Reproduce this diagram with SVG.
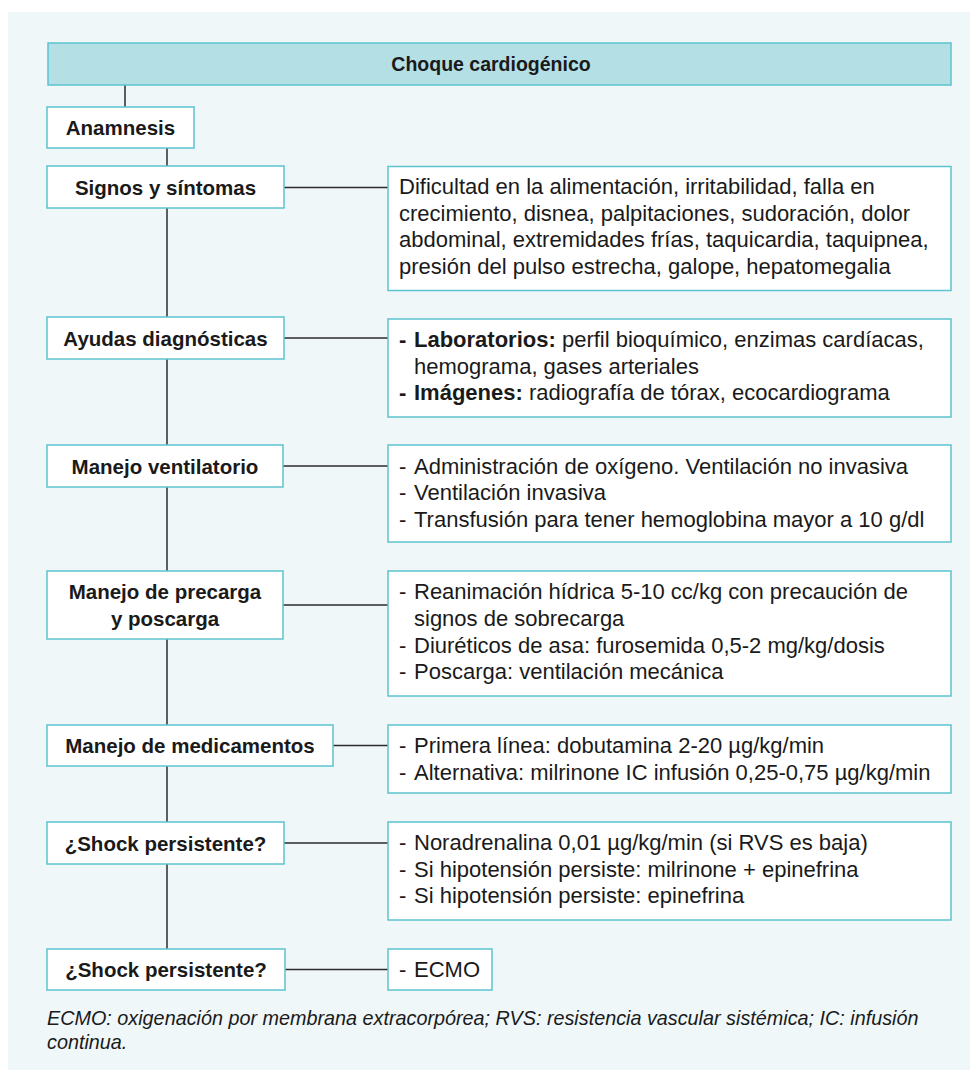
<svg xmlns="http://www.w3.org/2000/svg" width="979" height="1088" viewBox="0 0 979 1088">
<defs>
<style>
.bg{fill:#eff7f9}
.box{fill:#ffffff;stroke:#5cc3cf;stroke-width:1.5}
.title{fill:#b4dfe5;stroke:#5cc3cf;stroke-width:1.5}
.lbl{font-family:"Liberation Sans",Arial,sans-serif;font-size:20.5px;font-weight:bold;fill:#1a1a1a;text-anchor:middle}
.txt{font-family:"Liberation Sans",Arial,sans-serif;font-size:22px;fill:#1a1a1a}
.b{font-weight:bold}
.note{font-family:"Liberation Sans",Arial,sans-serif;font-size:19.8px;font-style:italic;fill:#1a1a1a}
.conn{stroke:#2b2b2b;stroke-width:1.5;fill:none}
</style>
</defs>
<rect class="bg" x="8" y="12" width="962" height="1058"/>

<g id="connectors">
<line class="conn" x1="125" y1="85" x2="125" y2="107"/>
<line class="conn" x1="167" y1="148" x2="167" y2="949"/>
<line class="conn" x1="284" y1="187.5" x2="388" y2="187.5"/>
<line class="conn" x1="284" y1="338" x2="388" y2="338"/>
<line class="conn" x1="283" y1="466" x2="388" y2="466"/>
<line class="conn" x1="283" y1="605" x2="388" y2="605"/>
<line class="conn" x1="333" y1="745.5" x2="388" y2="745.5"/>
<line class="conn" x1="284" y1="843" x2="388" y2="843"/>
<line class="conn" x1="285" y1="969.5" x2="388" y2="969.5"/>
</g>

<g id="n-title">
<rect class="title" x="48" y="43" width="903" height="42"/>
<text class="lbl" x="491" y="71" style="font-size:19.5px">Choque cardiogénico</text>
</g>

<g id="n-anamnesis">
<rect class="box" x="47" y="107" width="147" height="41"/>
<text class="lbl" x="120.5" y="134.5">Anamnesis</text>
</g>

<g id="n-signos">
<rect class="box" x="47" y="166" width="237" height="42"/>
<text class="lbl" x="165.5" y="194.5">Signos y síntomas</text>
</g>
<g id="n-signos-detail">
<rect class="box" x="388" y="166.5" width="563" height="124"/>
<text class="txt" x="399" y="194">Dificultad en la alimentación, irritabilidad, falla en</text>
<text class="txt" x="399" y="220.5">crecimiento, disnea, palpitaciones, sudoración, dolor</text>
<text class="txt" x="399" y="247">abdominal, extremidades frías, taquicardia, taquipnea,</text>
<text class="txt" x="399" y="274">presión del pulso estrecha, galope, hepatomegalia</text>
</g>

<g id="n-ayudas">
<rect class="box" x="47" y="317" width="237" height="42"/>
<text class="lbl" x="165.5" y="345.5">Ayudas diagnósticas</text>
</g>
<g id="n-ayudas-detail">
<rect class="box" x="388" y="319" width="563" height="98"/>
<text class="txt" y="347"><tspan class="b" x="399">-</tspan><tspan class="b" x="414">Laboratorios:</tspan><tspan> perfil bioquímico, enzimas cardíacas,</tspan></text>
<text class="txt" x="414" y="373.5">hemograma, gases arteriales</text>
<text class="txt" y="400"><tspan class="b" x="399">-</tspan><tspan class="b" x="414">Imágenes:</tspan><tspan> radiografía de tórax, ecocardiograma</tspan></text>
</g>

<g id="n-ventilatorio">
<rect class="box" x="47" y="445" width="236" height="42"/>
<text class="lbl" x="165" y="473.5">Manejo ventilatorio</text>
</g>
<g id="n-ventilatorio-detail">
<rect class="box" x="388" y="445" width="563" height="97"/>
<text class="txt" y="473.5"><tspan x="399">-</tspan><tspan x="414">Administración de oxígeno. Ventilación no invasiva</tspan></text>
<text class="txt" y="500"><tspan x="399">-</tspan><tspan x="414">Ventilación invasiva</tspan></text>
<text class="txt" y="526.5"><tspan x="399">-</tspan><tspan x="414">Transfusión para tener hemoglobina mayor a 10 g/dl</tspan></text>
</g>

<g id="n-precarga">
<rect class="box" x="47" y="571" width="236" height="68"/>
<text class="lbl" x="165" y="599">Manejo de precarga</text>
<text class="lbl" x="165" y="625.5">y poscarga</text>
</g>
<g id="n-precarga-detail">
<rect class="box" x="388" y="571" width="563" height="125"/>
<text class="txt" y="599"><tspan x="399">-</tspan><tspan x="414">Reanimación hídrica 5-10 cc/kg con precaución de</tspan></text>
<text class="txt" x="414" y="625.5">signos de sobrecarga</text>
<text class="txt" y="652.5"><tspan x="399">-</tspan><tspan x="414">Diuréticos de asa: furosemida 0,5-2 mg/kg/dosis</tspan></text>
<text class="txt" y="679"><tspan x="399">-</tspan><tspan x="414">Poscarga: ventilación mecánica</tspan></text>
</g>

<g id="n-medicamentos">
<rect class="box" x="47" y="725" width="286" height="41"/>
<text class="lbl" x="190" y="752.5">Manejo de medicamentos</text>
</g>
<g id="n-medicamentos-detail">
<rect class="box" x="388" y="725" width="563" height="68"/>
<text class="txt" y="753"><tspan x="399">-</tspan><tspan x="414">Primera línea: dobutamina 2-20 µg/kg/min</tspan></text>
<text class="txt" y="779.5"><tspan x="399">-</tspan><tspan x="414">Alternativa: milrinone IC infusión 0,25-0,75 µg/kg/min</tspan></text>
</g>

<g id="n-shock1">
<rect class="box" x="47" y="822" width="237" height="42"/>
<text class="lbl" x="165.5" y="850.5">¿Shock persistente?</text>
</g>
<g id="n-shock1-detail">
<rect class="box" x="388" y="822" width="563" height="98"/>
<text class="txt" y="850"><tspan x="399">-</tspan><tspan x="414">Noradrenalina 0,01 µg/kg/min (si RVS es baja)</tspan></text>
<text class="txt" y="876.5"><tspan x="399">-</tspan><tspan x="414">Si hipotensión persiste: milrinone + epinefrina</tspan></text>
<text class="txt" y="903"><tspan x="399">-</tspan><tspan x="414">Si hipotensión persiste: epinefrina</tspan></text>
</g>

<g id="n-shock2">
<rect class="box" x="47" y="949" width="238" height="41"/>
<text class="lbl" x="166" y="977">¿Shock persistente?</text>
</g>
<g id="n-shock2-detail">
<rect class="box" x="388" y="949" width="104" height="41"/>
<text class="txt" y="977"><tspan x="399">-</tspan><tspan x="414">ECMO</tspan></text>
</g>

<g id="footnote">
<text class="note" x="47" y="1025">ECMO: oxigenación por membrana extracorpórea; RVS: resistencia vascular sistémica; IC: infusión</text>
<text class="note" x="47" y="1049">continua.</text>
</g>
</svg>
